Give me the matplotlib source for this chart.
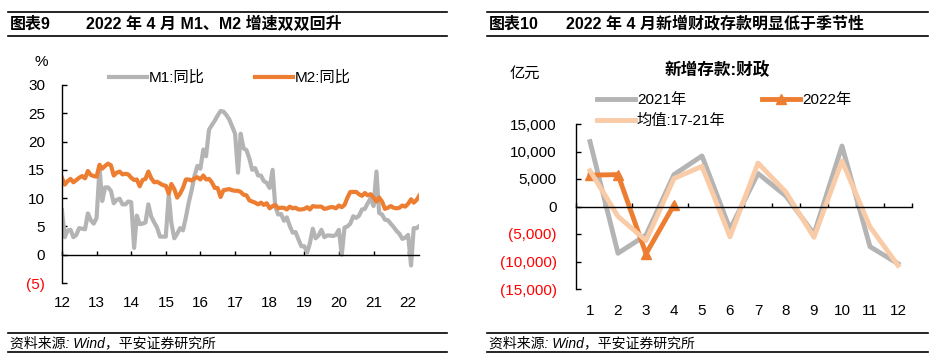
import numpy as np
import pandas as pd
import matplotlib
matplotlib.use("Agg")
import matplotlib.pyplot as plt
import matplotlib.dates as mdates
from matplotlib.lines import Line2D

plt.rcParams['font.family'] = ['Liberation Sans', 'Noto Sans CJK SC', 'DejaVu Sans']
plt.rcParams['axes.unicode_minus'] = False

# ---- data: M1 / M2 yoy (%), month-end from 2011-12 to 2022-04
m1_yoy = [7.9,
          3.1, 4.3, 4.4, 3.1, 3.5, 4.7, 4.6, 4.5, 7.3, 6.1, 5.5, 6.5,
          15.3, 9.5, 11.9, 11.9, 11.3, 9.1, 9.7, 9.9, 8.9, 8.9, 9.4, 9.3,
          1.2, 6.9, 5.4, 5.5, 5.7, 8.9, 6.7, 5.7, 4.8, 3.2, 3.2, 3.2,
          10.6, 5.6, 2.9, 3.7, 4.7, 4.3, 6.6, 9.3, 11.4, 14.0, 15.7, 15.2,
          18.6, 17.4, 22.1, 22.9, 23.7, 24.6, 25.4, 25.3, 24.7, 23.9, 22.7, 21.4,
          14.5, 21.4, 18.8, 18.5, 17.0, 15.0, 15.3, 14.0, 14.0, 13.0, 12.7, 11.8,
          15.0, 8.5, 7.1, 7.2, 6.0, 6.6, 5.1, 3.9, 4.0, 2.7, 1.5, 1.5,
          0.4, 2.0, 4.6, 2.9, 3.4, 4.4, 3.1, 3.4, 3.4, 3.3, 3.5, 4.4,
          0.0, 4.8, 5.0, 5.5, 6.8, 6.5, 6.9, 8.0, 8.1, 9.1, 10.0, 8.6,
          14.7, 7.4, 7.1, 6.2, 6.1, 5.5, 4.9, 4.2, 3.7, 2.8, 3.0, 3.5,
          -1.9, 4.7, 4.7, 5.1]
m2_yoy = [13.6,
          12.4, 13.0, 13.4, 12.8, 13.2, 13.6, 13.9, 13.5, 14.8, 14.1, 13.9, 13.8,
          15.9, 15.2, 15.7, 16.1, 15.8, 14.0, 14.5, 14.7, 14.2, 14.3, 14.2, 13.6,
          13.2, 13.3, 12.1, 13.2, 13.4, 14.7, 13.5, 12.8, 12.9, 12.6, 12.3, 12.2,
          10.8, 12.5, 11.6, 10.1, 10.8, 11.8, 13.3, 13.3, 13.1, 13.5, 13.7, 13.3,
          14.0, 13.3, 13.4, 12.8, 11.8, 11.8, 10.2, 11.4, 11.5, 11.6, 11.4, 11.3,
          11.3, 11.1, 10.6, 10.5, 9.6, 9.4, 9.2, 8.9, 9.2, 8.8, 9.1, 8.2,
          8.6, 8.8, 8.2, 8.3, 8.3, 8.0, 8.5, 8.2, 8.3, 8.0, 8.0, 8.1,
          8.4, 8.0, 8.6, 8.5, 8.5, 8.5, 8.1, 8.2, 8.4, 8.4, 8.2, 8.7,
          8.4, 8.8, 10.1, 11.1, 11.1, 11.1, 10.7, 10.4, 10.9, 10.5, 10.7, 10.1,
          9.4, 10.1, 9.4, 8.1, 8.3, 8.6, 8.3, 8.2, 8.3, 8.7, 8.5, 9.0,
          9.8, 9.2, 9.7, 10.5]
dates = pd.date_range('2011-12-31', '2022-04-30', freq='ME')
year_ticks = pd.date_range('2012-01-01', '2022-01-01', freq='YS')
left_yticks = [-5, 0, 5, 10, 15, 20, 25, 30]

# ---- data: new fiscal deposits (100m yuan) by month
months = list(range(1, 13))
fiscal_2021 = [11800, -8500, -5200, 5800, 9200, -4100, 6000, 1900, -5000, 11000, -7300, -10400]
fiscal_2022 = [5700, 5800, -8600, 300]
fiscal_avg = [6500, -1800, -6200, 5100, 7300, -5500, 7900, 2600, -5600, 8300, -3700, -10700]
right_yticks = [-15000, -10000, -5000, 0, 5000, 10000, 15000]

W, H = 940, 359
fig = plt.figure(figsize=(W / 100, H / 100), dpi=100)


def box(x0, ytop, x1, ybot):
    return [x0 / W, 1 - ybot / H, (x1 - x0) / W, (ybot - ytop) / H]


def fx(x):
    return x / W


def fy(y):
    return 1 - y / H


def hline(x0, x1, y, lw=1.2):
    fig.add_artist(Line2D([fx(x0), fx(x1)], [fy(y), fy(y)], color='black', lw=lw,
                          transform=fig.transFigure))


def neg_fmt(v, comma):
    s = f"{abs(v):,.0f}" if comma else f"{abs(v):.0f}"
    return f"({s})" if v < 0 else s


def style_axis(ax, yticks, comma, ypad, xpad):
    for s in ['top', 'right']:
        ax.spines[s].set_visible(False)
    ax.spines['bottom'].set_position(('data', 0))
    ax.spines['left'].set_linewidth(1.0)
    ax.spines['bottom'].set_linewidth(1.0)
    ax.set_yticks(yticks, [neg_fmt(v, comma) for v in yticks])
    for v, lab in zip(yticks, ax.get_yticklabels()):
        lab.set_color('#FF0000' if v < 0 else 'black')
    ax.tick_params(axis='y', direction='in', length=3.5, width=1, pad=ypad, labelsize=11)
    ax.tick_params(axis='x', direction='in', length=3, width=1, pad=xpad, labelsize=11)


# ---- headers and footers
for x0, x1 in [(8, 447), (487, 928)]:
    hline(x0, x1, 12)
    hline(x0, x1, 36)
    hline(x0, x1, 333)
    hline(x0, x1, 352)
fig.text(fx(10), fy(24), '图表9', fontsize=11.5, fontweight='bold', va='center')
fig.text(fx(86), fy(24), '2022 年 4 月 M1、M2 增速双双回升', fontsize=11.5,
         fontweight='bold', va='center')
fig.text(fx(489), fy(24), '图表10', fontsize=11.5, fontweight='bold', va='center')
fig.text(fx(566), fy(24), '2022 年 4 月新增财政存款明显低于季节性', fontsize=11.5,
         fontweight='bold', va='center')
for x0 in (10, 489):
    fig.text(fx(x0), fy(343), '资料来源: Wind，平安证券研究所', fontsize=10,
             style='italic', va='center')

# ---- left chart
ax1 = fig.add_axes(box(62, 85, 419.5, 283))
ax1.plot(dates, m1_yoy, color='#B4B4B4', lw=3, label='M1:同比')
ax1.plot(dates, m2_yoy, color='#ED7D31', lw=3, label='M2:同比')
ax1.set_xlim(pd.Timestamp('2012-01-01'), pd.Timestamp('2022-04-30'))
ax1.set_ylim(-5, 30)
ax1.set_xticks(year_ticks)
ax1.xaxis.set_major_formatter(mdates.DateFormatter('%y'))
style_axis(ax1, left_yticks, False, 12, 30)
ax1.legend(loc='center left', bbox_to_anchor=(fx(103), fy(78)),
           bbox_transform=fig.transFigure, ncol=2, frameon=False, fontsize=11,
           handlelength=2.5, handletextpad=0.1, columnspacing=3.3, borderaxespad=0)
fig.text(fx(41), fy(62), '%', fontsize=11, ha='center', va='center')

# ---- right chart
ax2 = fig.add_axes(box(576, 124, 912, 289))
ax2.plot(months, fiscal_2021, color='#B4B4B4', lw=3.5, label='2021年')
ax2.plot(months[:len(fiscal_2022)], fiscal_2022, color='#ED7D31', lw=3.5,
         marker='^', markersize=7, label='2022年')
ax2.plot(months, fiscal_avg, color='#F9CBA7', lw=3.5, label='均值:17-21年')
ax2.set_xlim(0.5, 12.5)
ax2.set_ylim(-15000, 15000)
ax2.set_xticks(months, [str(m) for m in months])
ax2.set_xticks(np.arange(0.5, 13, 1), minor=True)
style_axis(ax2, right_yticks, True, 14, 70)
ax2.tick_params(axis='x', which='major', length=0)
ax2.tick_params(axis='x', which='minor', direction='in', length=3, width=1)
h, l = ax2.get_legend_handles_labels()
order = [0, 2, 1]
ax2.legend([h[i] for i in order], [l[i] for i in order], loc='upper left',
           bbox_to_anchor=(fx(591), fy(87)), bbox_transform=fig.transFigure,
           ncol=2, frameon=False, fontsize=11, handlelength=2.5, handletextpad=0.1,
           columnspacing=2.4, labelspacing=0.45, borderaxespad=0)
fig.text(fx(525), fy(74), '亿元', fontsize=11, ha='center', va='center')
fig.text(fx(717), fy(70), '新增存款:财政', fontsize=12, fontweight='bold',
         ha='center', va='center')

fig.savefig('out.png', dpi=100)
